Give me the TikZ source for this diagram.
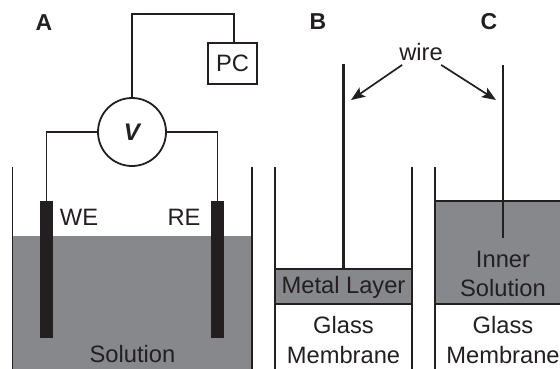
\documentclass[tikz,border=0pt]{standalone}
\usepackage{fontspec}
\setmainfont{Liberation Sans}
\usetikzlibrary{arrows.meta}
\definecolor{ink}{HTML}{231F20}
\definecolor{liquid}{HTML}{87888B}
\tikzset{
	wall/.style={draw=ink, line width=1.7pt},
	lead/.style={draw=ink, line width=1.8pt},
	rod/.style={draw=ink, line width=2.4pt},
	arrowline/.style={draw=ink, line width=1.7pt, -{Stealth[length=14pt,width=11pt,inset=3pt]}},
	electrode/.style={fill=ink, minimum width=13.5pt, minimum height=137pt, inner sep=0pt},
	txt/.style={text=ink, font=\fontsize{23.7}{26}\selectfont, inner sep=0pt},
	panel/.style={text=ink, font=\fontsize{23}{26}\selectfont\bfseries, inner sep=0pt}
}
\begin{document}
\begin{tikzpicture} [x=1pt, y=-1pt]
		\useasboundingbox (0, 0) rectangle (560, 369);
		%----------------------------------------------------
		% Panel A, the cell with both electrodes
		%----------------------------------------------------
		\fill [liquid] (12.5, 235.5) rectangle (252, 369);
		\draw [wall] (12.5, 167) -- (12.5, 369);
		\draw [wall] (252, 167) -- (252, 369);
		
		\node [electrode] (we) at (46.5, 269.5) {};
		\node [electrode] (re) at (217.5, 269.5) {};
		\node [circle, draw=ink, line width=1.8pt, minimum size=68pt, inner sep=0pt, font=\fontsize{24}{26}\selectfont\bfseries\itshape, text=ink] (volt) at (132, 132) {V};
		\node [draw=ink, line width=1.8pt, minimum width=49pt, minimum height=41pt, inner sep=0pt] (pc) at (232.5, 63.5) {};
		\node [txt] (pctxt) at (pc) {PC};
		
		\draw [lead] (volt.west) -| (we.north);
		\draw [lead] (volt.east) -| (re.north);
		\coordinate (corner) at (234, 14);
		\draw [lead] (volt.north) |- (corner) -- (corner |- pc.north);
		
		\node [panel] (lblA) at (44, 23) {A};
		\node [txt] (lblWE) at (79, 217) {WE};
		\node [txt] (lblRE) at (184, 217) {RE};
		\node [txt] (lblSol) at (132.5, 354) {Solution};
		
		%----------------------------------------------------
		% Panel B, metal layer on the membrane
		%----------------------------------------------------
		\fill [liquid] (275, 269) rectangle (412, 304);
		\draw [wall] (275, 167) -- (275, 369);
		\draw [wall] (412, 167) -- (412, 369);
		\draw [wall] (275, 269) -- (412, 269);
		\draw [wall] (275, 304) -- (412, 304);
		\coordinate (topB) at (343.5, 64);
		\coordinate (endB) at (343.5, 269);
		\draw [rod] (topB) -- (endB);
		
		\node [panel] (lblB) at (318, 22) {B};
		\node [txt] (lblMetal) at (343.5, 287) {Metal Layer};
		\node [txt] (lblGlassB) at (343.5, 325) {Glass};
		\node [txt] (lblMemB) at (343.5, 355) {Membrane};
		
		%----------------------------------------------------
		% Panel C, inner solution on the membrane
		%----------------------------------------------------
		\fill [liquid] (435, 201) rectangle (560, 304);
		\draw [wall] (435, 167) -- (435, 369);
		\draw [wall] (435, 201) -- (560, 201);
		\draw [wall] (435, 304) -- (560, 304);
		\coordinate (topC) at (503, 65);
		\coordinate (endC) at (503, 238);
		\draw [rod] (topC) -- (endC);
		
		\node [panel] (lblC) at (489, 22) {C};
		\node [txt] (lblInner) at (503, 259) {Inner};
		\node [txt] (lblInSol) at (503, 288) {Solution};
		\node [txt] (lblGlassC) at (503, 325) {Glass};
		\node [txt] (lblMemC) at (503, 355) {Membrane};
		
		%----------------------------------------------------
		% The label pointing to both wires
		%----------------------------------------------------
		\node [txt, inner sep=4pt] (wire) at (421, 52) {wire};
		\coordinate (tipB) at (351, 100);
		\coordinate (tipC) at (496, 100);
		\draw [arrowline] (wire) -- (tipB);
		\draw [arrowline] (wire) -- (tipC);
	\end{tikzpicture}
\end{document}
